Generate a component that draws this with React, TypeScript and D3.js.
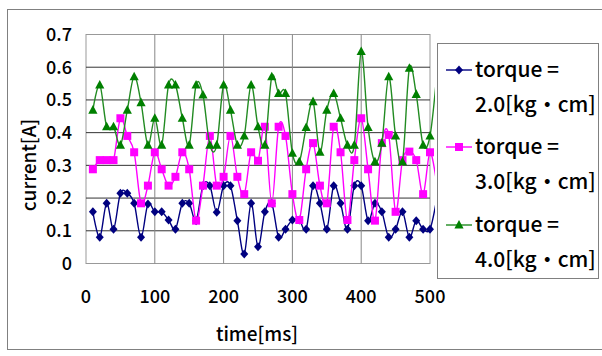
import React from 'react';
import * as d3 from 'd3';

// sample times [ms] (last one lies past the axis and is clipped)
const times = [10, 20, 30, 40, 50, 60, 70, 80, 90, 100, 110, 120, 130, 140, 150, 160, 170, 180, 190, 200,
  210, 220, 230, 240, 250, 260, 270, 280, 290, 300, 310, 320, 330, 340, 350, 360, 370, 380, 390, 400,
  410, 420, 430, 440, 450, 460, 470, 480, 490, 500, 510];

const torque20 = [0.158, 0.080, 0.184, 0.105, 0.215, 0.215, 0.184, 0.080, 0.182, 0.158, 0.158, 0.133, 0.105,
  0.184, 0.184, 0.131, 0.238, 0.238, 0.157, 0.238, 0.238, 0.131, 0.029, 0.184, 0.051, 0.158, 0.184, 0.080,
  0.105, 0.133, 0.133, 0.105, 0.238, 0.184, 0.105, 0.238, 0.184, 0.105, 0.238, 0.238, 0.131, 0.184, 0.158,
  0.080, 0.105, 0.158, 0.080, 0.131, 0.105, 0.105, 0.200];

const torque30 = [0.288, 0.316, 0.316, 0.316, 0.444, 0.390, 0.340, 0.184, 0.238, 0.340, 0.288, 0.238, 0.265,
  0.340, 0.288, 0.131, 0.238, 0.390, 0.238, 0.265, 0.390, 0.265, 0.212, 0.340, 0.314, 0.418, 0.184, 0.418,
  0.390, 0.212, 0.133, 0.288, 0.368, 0.238, 0.184, 0.418, 0.340, 0.133, 0.316, 0.444, 0.288, 0.131, 0.368,
  0.393, 0.158, 0.316, 0.342, 0.316, 0.212, 0.340, 0.240];

const torque40 = [0.469, 0.546, 0.418, 0.418, 0.362, 0.469, 0.571, 0.492, 0.362, 0.444, 0.362, 0.546, 0.546,
  0.444, 0.362, 0.546, 0.515, 0.362, 0.362, 0.546, 0.469, 0.362, 0.390, 0.546, 0.418, 0.362, 0.571, 0.520,
  0.520, 0.337, 0.311, 0.416, 0.495, 0.340, 0.469, 0.520, 0.444, 0.362, 0.362, 0.648, 0.416, 0.311, 0.368,
  0.571, 0.390, 0.311, 0.597, 0.517, 0.362, 0.390, 0.580];

const xTicks = [0, 100, 200, 300, 400, 500];
const yTicks = [0, 0.1, 0.2, 0.3, 0.4, 0.5, 0.6, 0.7];

const seriesNames = ['2.0[kg・cm]', '3.0[kg・cm]', '4.0[kg・cm]'];
const seriesColors = ['#000080', '#ff00ff', '#008000'];
const seriesLineColors = ['#000080', '#ff00ff', '#228b22'];
const seriesShapes = ['diamond', 'square', 'triangle'];

const font = '"Noto Sans CJK JP", "Noto Sans", sans-serif';

const Marker = ({ shape, x, y, color }: { shape: string; x: number; y: number; color: string }) => {
  if (shape === 'diamond') {
    return <path d={`M${x},${y - 4.5}L${x + 4},${y}L${x},${y + 4.5}L${x - 4},${y}Z`} fill={color} />;
  }
  if (shape === 'square') {
    return <rect x={x - 4} y={y - 4} width={8} height={8} fill={color} />;
  }
  return <path d={`M${x},${y - 5}L${x + 4.6},${y + 3.6}L${x - 4.6},${y + 3.6}Z`} fill={color} />;
};

export default function App() {
  const width = 602;
  const height = 356;
  const x = d3.scaleLinear().domain([0, 500]).range([86, 430]);
  const y = d3.scaleLinear().domain([0, 0.7]).range([263.5, 34.5]);

  const allSeries = [torque20, torque30, torque40];
  const line = d3.line<number>()
    .x((_, i) => x(times[i]))
    .y(d => y(d))
    .curve(d3.curveCardinal.tension(0));

  const legendTop = [70, 147, 225];

  return (
    <svg width={width} height={height} style={{ position: 'absolute', left: 0, top: 0, background: '#fff' }}
      fontFamily={font} fontWeight={500}>
      <defs>
        <clipPath id="plotClip">
          <rect x={80} y={20} width={355} height={260} />
        </clipPath>
      </defs>
      <rect x={7.5} y={9.5} width={620} height={340} fill="#fff" stroke="#808080" />

      {/* plot area */}
      <rect x={x(0)} y={y(0.7)} width={x(500) - x(0)} height={y(0) - y(0.7)} fill="#fff" stroke="#999" />
      {yTicks.slice(1, -1).map(t => (
        <line key={'gy' + t} x1={x(0)} x2={x(500)} y1={y(t)} y2={y(t)} stroke="#333" strokeWidth={1} />
      ))}
      {xTicks.slice(1, -1).map(t => (
        <line key={'gx' + t} x1={x(t)} x2={x(t)} y1={y(0.7)} y2={y(0)} stroke="#888" strokeWidth={1} />
      ))}

      {/* series */}
      <g clipPath="url(#plotClip)">
        {allSeries.map((s, k) => (
          <g key={'s' + k}>
            <path d={line(s) || ''} fill="none" stroke={seriesLineColors[k]} strokeWidth={1.4} />
            {s.map((v, i) => times[i] <= 500 ? (
              <Marker key={i} shape={seriesShapes[k]} x={x(times[i])} y={y(v)} color={seriesColors[k]} />
            ) : null)}
          </g>
        ))}
      </g>

      {/* axes labels */}
      {yTicks.map(t => (
        <text key={'ty' + t} x={72} y={y(t)} dy="0.35em" textAnchor="end" fontSize={18}>
          {t === 0 ? '0' : t.toFixed(1)}
        </text>
      ))}
      {xTicks.map(t => (
        <text key={'tx' + t} x={x(t)} y={297} dy="0.35em" textAnchor="middle" fontSize={18}>{t}</text>
      ))}
      <text x={257} y={334} dy="0.35em" textAnchor="middle" fontSize={19}>time[ms]</text>
      <text transform="translate(29,165) rotate(-90)" dy="0.35em" textAnchor="middle" fontSize={19}>current[A]</text>

      {/* legend */}
      <rect x={437.5} y={43.5} width={161} height={235} fill="#fff" stroke="#808080" />
      {seriesNames.map((name, k) => (
        <g key={'lg' + k}>
          <line x1={446} x2={472} y1={legendTop[k]} y2={legendTop[k]} stroke={seriesLineColors[k]} strokeWidth={1.4} />
          <Marker shape={seriesShapes[k]} x={459} y={legendTop[k]} color={seriesColors[k]} />
          <text x={475} y={legendTop[k]} dy="0.35em" fontSize={21}>torque =</text>
          <text x={475} y={legendTop[k] + 35} dy="0.35em" fontSize={21}>{name}</text>
        </g>
      ))}
    </svg>
  );
}
